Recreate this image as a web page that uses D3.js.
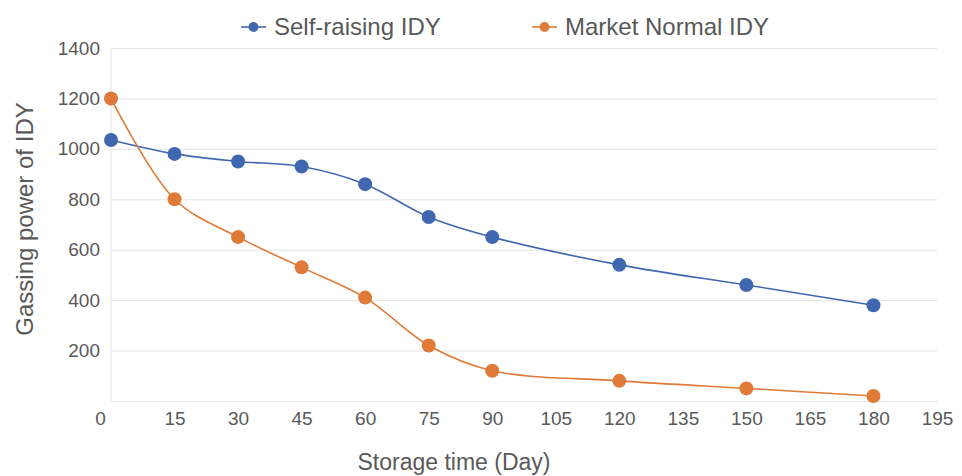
<!DOCTYPE html>
<html>
<head>
<meta charset="utf-8">
<script src="https://cdn.jsdelivr.net/npm/d3@7"></script>
<style>
  html, body { margin: 0; padding: 0; background: #fff; overflow: hidden; }
  svg { display: block; }
</style>
</head>
<body>
<div id="chart"></div>
<script>
// Data
const days = [0, 15, 30, 45, 60, 75, 90, 120, 150, 180];
const selfRaising = [1035, 980, 950, 930, 860, 730, 650, 540, 460, 380];
const marketNormal = [1200, 800, 650, 530, 410, 220, 120, 80, 50, 20];
const xTicks = [0, 15, 30, 45, 60, 75, 90, 105, 120, 135, 150, 165, 180, 195];
const yTicks = [200, 400, 600, 800, 1000, 1200, 1400];

const seriesInfo = [
  { label: "Self-raising IDY", values: selfRaising, color: "#4068b0" },
  { label: "Market Normal IDY", values: marketNormal, color: "#e07a38" }
];

const fontFamily = "Liberation Sans, Arial, sans-serif";
const textColor = "#595959";
const gridColor = "#e4e4e4";

const width = 962;
const height = 476;
const margin = { top: 48, right: 25, bottom: 75, left: 111 };
const innerWidth = width - margin.left - margin.right;
const innerHeight = height - margin.top - margin.bottom;

const svg = d3.select("#chart")
  .append("svg")
    .attr("width", width)
    .attr("height", height)
    .attr("font-family", fontFamily);

const innerChart = svg
  .append("g")
    .attr("transform", `translate(${margin.left}, ${margin.top})`);

// Scales
const xScale = d3.scaleLinear()
  .domain([0, 195])
  .range([0, innerWidth]);

const yScale = d3.scaleLinear()
  .domain([0, 1400])
  .range([innerHeight, 0]);

// Horizontal gridlines + y labels
const leftAxis = d3.axisLeft(yScale)
  .tickValues(yTicks)
  .tickFormat(d3.format("d"))
  .tickSize(innerWidth * -1)
  .tickPadding(11);
const yAxis = innerChart.append("g")
  .attr("class", "axis-y")
  .call(leftAxis)
  .attr("font-family", fontFamily)
  .attr("font-size", 19);
yAxis.select(".domain").remove();
yAxis.selectAll("line").attr("stroke", gridColor);
yAxis.selectAll("text").attr("fill", textColor);

// Left border of the plot
innerChart.append("line")
  .attr("x1", 0).attr("x2", 0)
  .attr("y1", 0).attr("y2", innerHeight)
  .attr("stroke", gridColor);

// Bottom axis
const bottomAxis = d3.axisBottom(xScale)
  .tickValues(xTicks)
  .tickFormat(d3.format("d"))
  .tickSize(0)
  .tickPadding(11);
const xAxis = innerChart.append("g")
  .attr("class", "axis-x")
  .attr("transform", `translate(0, ${innerHeight})`)
  .call(bottomAxis)
  .attr("font-family", fontFamily)
  .attr("font-size", 19);
xAxis.select(".domain").attr("stroke", gridColor);
xAxis.selectAll("text")
  .attr("fill", textColor)
  .attr("dx", d => d === 0 ? -11 : 0);

// Series
seriesInfo.forEach(s => {
  const pts = days.map((d, i) => ({ day: d, value: s.values[i] }));

  const curveGenerator = d3.line()
    .x(d => xScale(d.day))
    .y(d => yScale(d.value))
    .curve(d3.curveCatmullRom.alpha(0.5));

  innerChart.append("path")
    .attr("d", curveGenerator(pts))
    .attr("fill", "none")
    .attr("stroke", s.color)
    .attr("stroke-width", 1.6);

  innerChart.selectAll(null)
    .data(pts)
    .join("circle")
      .attr("r", 7)
      .attr("cx", d => xScale(d.day))
      .attr("cy", d => yScale(d.value))
      .attr("fill", s.color);
});

// Legend
const legendPos = [241, 532];
seriesInfo.forEach((s, i) => {
  const g = svg.append("g")
    .attr("transform", `translate(${legendPos[i]}, 27)`);
  g.append("line")
    .attr("x1", 0).attr("x2", 25)
    .attr("stroke", s.color)
    .attr("stroke-width", 1.6);
  g.append("circle")
    .attr("cx", 12.5)
    .attr("r", 5)
    .attr("fill", s.color);
  g.append("text")
    .attr("x", 33)
    .attr("y", 8)
    .attr("font-size", 24)
    .attr("fill", textColor)
    .text(s.label);
});

// Axis titles
svg.append("text")
  .attr("x", 454)
  .attr("y", 470)
  .attr("text-anchor", "middle")
  .attr("font-size", 23)
  .attr("fill", textColor)
  .text("Storage time (Day)");

svg.append("text")
  .attr("transform", "translate(33, 219) rotate(-90)")
  .attr("text-anchor", "middle")
  .attr("font-size", 24)
  .attr("fill", textColor)
  .text("Gassing power of IDY");
</script>
</body>
</html>
